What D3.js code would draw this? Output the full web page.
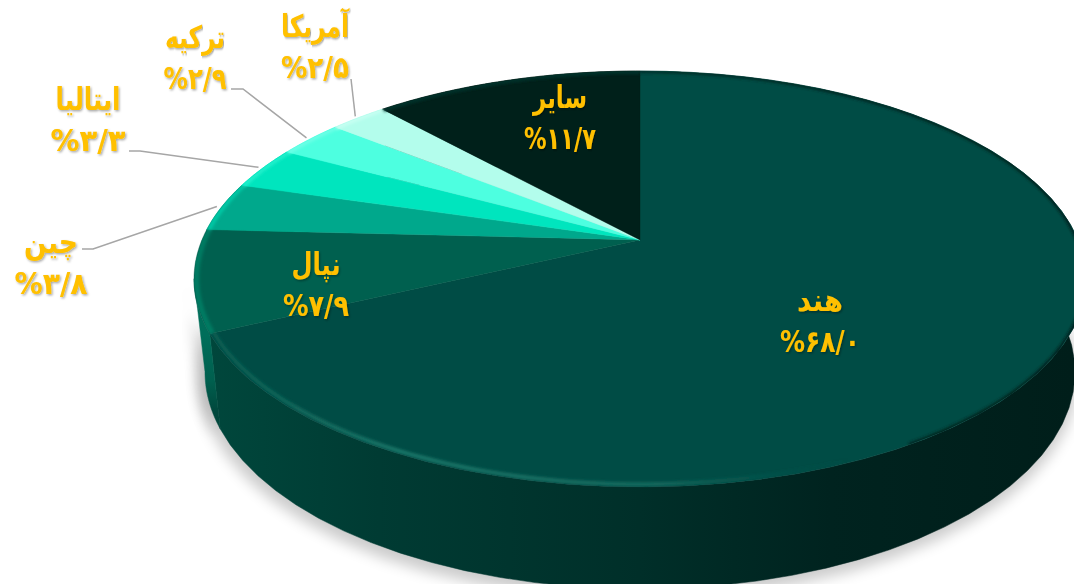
<!DOCTYPE html>
<html><head><meta charset="utf-8"><script src="https://cdn.jsdelivr.net/npm/d3@7"></script>
<style>html,body{margin:0;background:#fff;overflow:hidden}svg{display:block}
text{font-family:"DejaVu Sans",sans-serif;font-weight:bold;fill:#ffc000;text-anchor:middle;direction:ltr}</style></head><body>
<svg id="c" width="1074" height="584"></svg>
<script>
const categories=["هند","نپال","چین","ایتالیا","ترکیه","آمریکا","سایر"];
const values=[68.0,7.9,3.8,3.3,2.9,2.5,11.7];
const topColors=["#004c45","#00604f","#00a88c","#00e5be","#4dffe0","#b3fdec","#00201a"];
const rimColors=["#1c7a6c","#007a62","#00c9a6","#22f0cc","#6dffe6","#c6fff2","#00332b"];
const wallColors=["#003a33","#00604f","#00a88c","#00e5be","#4dffe0","#b3fdec","#00201a"];
const labelCenters=[[820,301],[316,265],[51,243],[88,100],[195,38],[315,27],[560,98]];
const nameWidths=[46,49,54,65,60,68,54];
const numberWidths=[80,66,73,75,63,68,72];
const leaderElbows=[null,null,[[93,249],[82,249]],[[140,151],[129,151]],[[243,89],[231,89]],[[351,79]],null];

const svg=d3.select("#c"),defs=svg.append("defs");
const topEl={cx:640,cy:279,rx:446,ry:208},botEl={cx:640,cy:372,rx:435,ry:217},skew=-0.188;
const scales=e=>({x:d3.scaleLinear().domain([-1,1]).range([e.cx-e.rx,e.cx+e.rx]),y:d3.scaleLinear().domain([-1,1]).range([e.cy-e.ry,e.cy+e.ry])});
const sT=scales(topEl),sB=scales(botEl);
function disk(t,r=1){const u=r*Math.sin(t),v=-r*Math.cos(t),w=1+skew*v;return [u*Math.sqrt(1-skew*skew)/w,(v+skew)/w];}
const proj=(t,s,r=1)=>{const p=disk(t,r);return [s.x(p[0]),s.y(p[1])];};
const samp=(a,b)=>d3.range(0,61).map(i=>a+(b-a)*i/60);
const line=d3.line();
const arcs=d3.pie().sort(null).value(d=>d)(values);

const f=(id,sd)=>defs.append("filter").attr("id",id).attr("x","-20%").attr("y","-20%").attr("width","140%").attr("height","140%").append("feGaussianBlur").attr("stdDeviation",sd);
f("sh",7);f("bl",1.5);f("bl2",1.4);
const ts=defs.append("filter").attr("id","ts").attr("x","-20%").attr("y","-20%").attr("width","140%").attr("height","140%");
ts.append("feDropShadow").attr("dx",1.2).attr("dy",1.2).attr("stdDeviation",.9).attr("flood-color","#000").attr("flood-opacity",.35);
const g=defs.append("linearGradient").attr("id","wall").attr("gradientUnits","userSpaceOnUse").attr("x1",205).attr("x2",1074).attr("y1",0).attr("y2",0);
[[0,"#00473c"],[.2,"#003b33"],[.5,"#002f29"],[.72,"#00231f"],[1,"#001e1a"]].forEach(s=>g.append("stop").attr("offset",s[0]).attr("stop-color",s[1]));
const ng=defs.append("linearGradient").attr("id","wallN").attr("gradientUnits","userSpaceOnUse").attr("x1",0).attr("x2",0).attr("y1",335).attr("y2",412);
[[0,"#006e5a"],[.6,"#005f4e"],[1,"#00473c"]].forEach(s=>ng.append("stop").attr("offset",s[0]).attr("stop-color",s[1]));
const rg=defs.append("linearGradient").attr("id","rimI").attr("gradientUnits","userSpaceOnUse").attr("x1",210).attr("x2",850).attr("y1",0).attr("y2",0);
[[0,"#0a5f52",1],[.3,"#1c7a6c",1],[.7,"#1a7063",.9],[1,"#004c45",0]].forEach(s=>rg.append("stop").attr("offset",s[0]).attr("stop-color",s[1]).attr("stop-opacity",s[2]));
const eg=defs.append("linearGradient").attr("id","edgeI").attr("gradientUnits","userSpaceOnUse").attr("x1",640).attr("x2",1074).attr("y1",0).attr("y2",0);
[[0,"#002f29"],[1,"#001e1a"]].forEach(s=>eg.append("stop").attr("offset",s[0]).attr("stop-color",s[1]));
defs.append("clipPath").attr("id","topClip").append("path").attr("d",line(samp(0,2*Math.PI).map(t=>proj(t,sT))));

const leftmost=(pts)=>d3.least(pts.map((p,i)=>[p[0],i]),d=>d[0])[1];
const wallRing=(a,i)=>{
  const pts=samp(a.startAngle,a.endAngle);
  let t=pts.map(p=>proj(p,sT)),b=pts.map(p=>proj(p,sB));
  if(i===1){t=t.slice(0,leftmost(t)+1);b=b.slice(0,leftmost(b)+1);}
  return t.concat(b.reverse());
};
const silhouette=samp(0,2*Math.PI).map(t=>proj(t,sB));
svg.append("path").attr("d",line(silhouette)+"Z").attr("transform","translate(-2,5)").attr("fill","#000").attr("stroke","#000").attr("stroke-width",10).attr("opacity",.2).attr("filter","url(#sh)");
svg.append("path").attr("d",line(wallRing(arcs[1],1))+"Z").attr("transform","translate(-6,6)").attr("fill","#000").attr("opacity",.2).attr("filter","url(#sh)");

arcs.forEach((a,i)=>{
  const fill=i===0?"url(#wall)":i===1?"url(#wallN)":wallColors[i];
  svg.append("path").attr("d",line(wallRing(a,i))+"Z").attr("fill",fill).attr("stroke",fill).attr("stroke-width",.5);
});
const tops=svg.append("g");
arcs.forEach((a,i)=>{
  const pts=samp(a.startAngle,a.endAngle).map(t=>proj(t,sT));
  tops.append("path").attr("d",line([proj(0,sT,0)].concat(pts))+"Z").attr("fill",topColors[i]).attr("stroke",topColors[i]).attr("stroke-width",.4);
});
const rims=svg.append("g").attr("clip-path","url(#topClip)");
const frontStart=2.6;
arcs.forEach((a,i)=>{
  if(i===0){
    rims.append("path").attr("d",line(samp(a.startAngle,frontStart).map(t=>proj(t,sT)))).attr("fill","none").attr("stroke","url(#edgeI)").attr("stroke-width",4).attr("filter","url(#bl2)");
    rims.append("path").attr("d",line(samp(frontStart,a.endAngle).map(t=>proj(t,sT,.991)))).attr("fill","none").attr("stroke","url(#rimI)").attr("stroke-width",3.5).attr("filter","url(#bl)");
  } else {
    rims.append("path").attr("d",line(samp(a.startAngle,a.endAngle).map(t=>proj(t,sT,.995)))).attr("fill","none").attr("stroke",rimColors[i]).attr("stroke-width",i===1?6:4).attr("filter","url(#bl)");
  }
});
arcs.forEach((a,i)=>{
  if(!leaderElbows[i])return;
  const mid=(a.startAngle+a.endAngle)/2;
  svg.append("path").attr("d",line([proj(mid,sT,1.012)].concat(leaderElbows[i]))).attr("fill","none").attr("stroke","#a6a6a6").attr("stroke-width",1.5);
});
const fa=v=>v.toFixed(1).replace(".","/").replace(/\d/g,d=>"۰۱۲۳۴۵۶۷۸۹"[d]);
const label=(x,y,w,sy,s)=>{
  const t=svg.append("text").attr("font-size",27).attr("filter","url(#ts)").text(s);
  const sx=w/t.node().getComputedTextLength();
  t.attr("transform",`translate(${x},${y}) scale(${sx},${sy})`);
};
categories.forEach((c,i)=>{
  const [x,y]=labelCenters[i];
  label(x,y+10,nameWidths[i],1.15,c);
  label(x,y+51,numberWidths[i],1.12,"%"+fa(values[i]));
});
</script></body></html>
